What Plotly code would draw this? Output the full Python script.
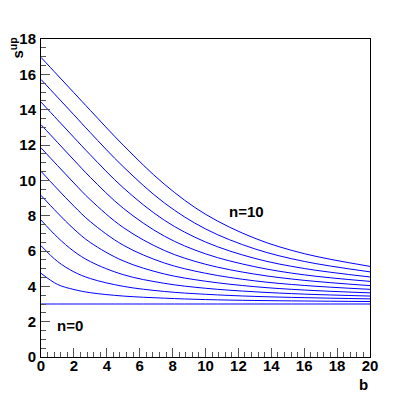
import plotly.graph_objects as go

# background b where the curves were read
b_vals = [0, 1, 2, 3, 5, 7.5, 10, 13, 16, 20]

# upper limit s_up for observed n = 0 .. 10
s_n0 = [3.00, 3.00, 3.00, 3.00, 3.00, 3.00, 3.00, 3.00, 3.00, 3.00]
s_n1 = [4.74, 4.11, 3.82, 3.64, 3.45, 3.33, 3.25, 3.20, 3.17, 3.14]
s_n2 = [6.30, 5.41, 4.82, 4.44, 4.00, 3.71, 3.55, 3.43, 3.36, 3.29]
s_n3 = [7.75, 6.78, 5.98, 5.40, 4.66, 4.17, 3.89, 3.69, 3.56, 3.45]
s_n4 = [9.15, 8.16, 7.24, 6.48, 5.44, 4.70, 4.29, 3.98, 3.79, 3.63]
s_n5 = [10.51, 9.51, 8.54, 7.66, 6.33, 5.32, 4.74, 4.31, 4.05, 3.83]
s_n6 = [11.84, 10.84, 9.85, 8.90, 7.33, 6.03, 5.25, 4.69, 4.34, 4.04]
s_n7 = [13.15, 12.15, 11.15, 10.17, 8.42, 6.84, 5.84, 5.11, 4.65, 4.28]
s_n8 = [14.43, 13.43, 12.43, 11.44, 9.58, 7.74, 6.51, 5.58, 5.01, 4.53]
s_n9 = [15.71, 14.71, 13.71, 12.70, 10.77, 8.72, 7.25, 6.12, 5.41, 4.82]
s_n10 = [16.96, 15.96, 14.96, 13.96, 11.99, 9.78, 8.08, 6.72, 5.85, 5.13]

curves = [s_n0, s_n1, s_n2, s_n3, s_n4, s_n5, s_n6, s_n7, s_n8, s_n9, s_n10]

FONT = "Liberation Sans, Arial, sans-serif"

fig = go.Figure()
for n, s_up in enumerate(curves):
    fig.add_trace(
        go.Scatter(
            x=b_vals,
            y=s_up,
            mode='lines',
            name=f"n={n}",
            line=dict(color='#0000ff', width=1, shape='spline'),
            showlegend=False
        )
    )

# curve labels
fig.add_annotation(x=12.5, y=8.25, text="n=10", showarrow=False,
                   font=dict(family=FONT, size=15, color='black', weight='bold'))
fig.add_annotation(x=1.75, y=1.8, text="n=0", showarrow=False,
                   font=dict(family=FONT, size=15, color='black', weight='bold'))

# axis titles, ROOT style (aligned to the axis ends)
fig.add_annotation(x=20, y=-0.055, xref='x', yref='paper', text="b", showarrow=False,
                   xanchor='right', yanchor='top',
                   font=dict(family=FONT, size=15, color='black', weight='bold'))
fig.add_annotation(x=-0.074, y=0.972, xref='paper', yref='paper', text="s<sup>up</sup>",
                   showarrow=False, textangle=-90, xanchor='center', yanchor='middle',
                   font=dict(family=FONT, size=15, color='black', weight='bold'))

axis_common = dict(
    showgrid=False, zeroline=False,
    showline=True, linecolor='black', linewidth=1, mirror=True,
    ticks='inside', tickcolor='#555555', tickwidth=1,
    tickfont=dict(family=FONT, size=15, color='black', weight='bold'),
)

fig.update_xaxes(range=[0, 20], tick0=0, dtick=2, ticklen=9, ticklabelstandoff=-5,
                 minor=dict(dtick=0.4, ticklen=5, ticks='inside', tickcolor='#555555'),
                 **axis_common)
fig.update_yaxes(range=[0, 18], tick0=0, dtick=2, ticklen=9, ticklabelstandoff=1,
                 minor=dict(dtick=0.5, ticklen=5, ticks='inside', tickcolor='#555555'),
                 **axis_common)

# the page body adds an 8px margin, so the figure is shrunk to fit the window
fig.update_layout(
    width=403, height=389,
    margin=dict(l=33, r=41, t=31, b=40),
    paper_bgcolor='white', plot_bgcolor='white',
)

fig.write_html("out.html")
